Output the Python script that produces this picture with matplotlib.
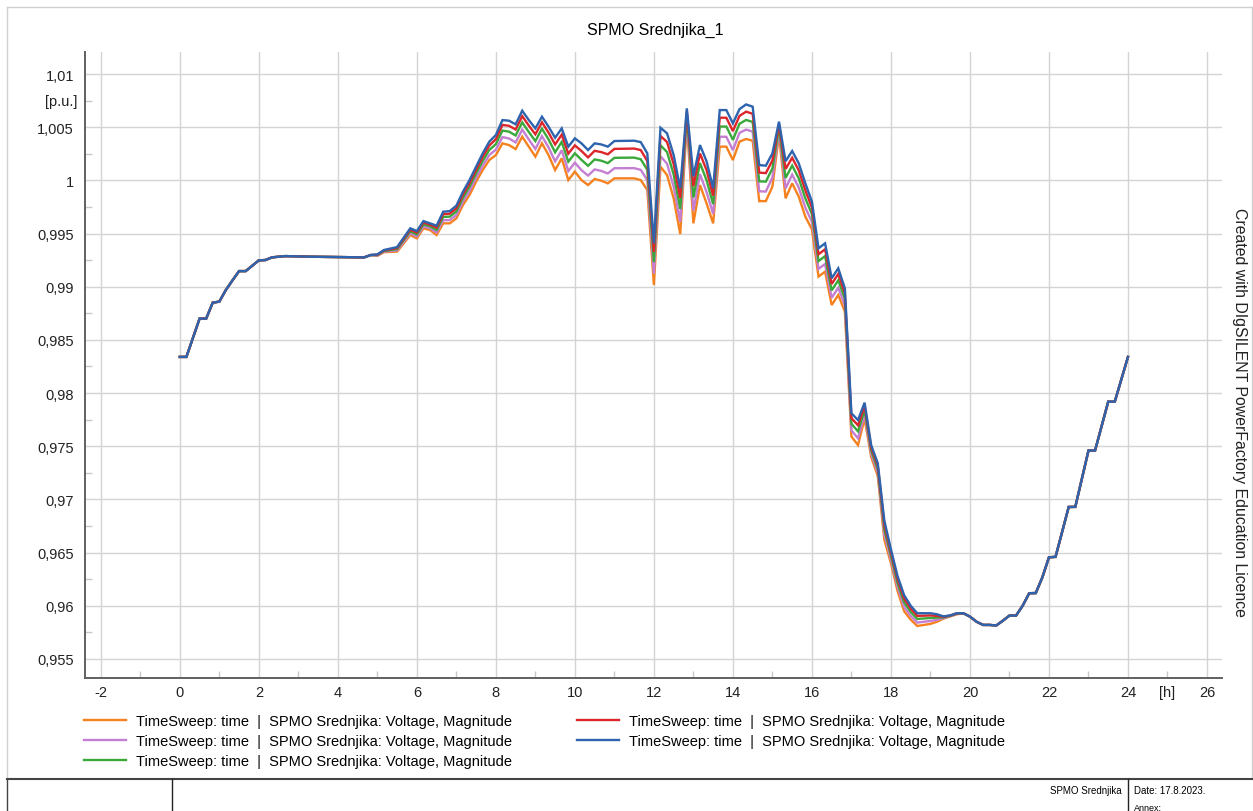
import numpy as np
import matplotlib.pyplot as plt
from matplotlib.ticker import MultipleLocator, FuncFormatter
from matplotlib.lines import Line2D

plt.rcParams['font.family'] = ['Liberation Sans', 'DejaVu Sans']
plt.rcParams['axes.unicode_minus'] = False

# time of each vertex, minutes after midnight
minutes_start = [0, 10, 30, 40, 50, 60, 70, 80, 90, 100, 120, 130, 140, 160, 200, 240, 280, 290]
minutes_mid = [300, 310, 330] + list(range(350, 670, 10)) + list(range(690, 1190, 10))
minutes_end = [1190, 1200, 1210, 1220, 1230, 1240, 1250, 1260, 1270, 1280, 1290, 1300,
               1310, 1320, 1330, 1350, 1360, 1380, 1390, 1410, 1420, 1440]

# voltage [p.u.] where all five cases coincide
shared_start = [0.9834, 0.9834, 0.9870, 0.9870, 0.9885, 0.9886, 0.9897, 0.9906, 0.99147, 0.99147,
                0.99248, 0.99251, 0.99276, 0.99288, 0.99282, 0.99279, 0.99276, 0.99298]
shared_end = [0.95930, 0.95898, 0.95850, 0.95820, 0.95820, 0.95815, 0.95860, 0.95908, 0.95908,
              0.96000, 0.96118, 0.96120, 0.96268, 0.96456, 0.96460, 0.96929, 0.96930, 0.97459,
              0.97460, 0.97919, 0.97920, 0.98340]

blue_mid = [
    0.99304, 0.99345, 0.99373, 0.99549, 0.99523, 0.99617, 0.99596, 0.99574, 0.99705, 0.99711,
    0.99762, 0.99893, 1.00003, 1.00129, 1.00254, 1.00364, 1.00426, 1.00567, 1.00561, 1.00527,
    1.00655, 1.00567, 1.00489, 1.00599, 1.00505, 1.00401, 1.00489, 1.00317, 1.00395, 1.00348,
    1.00285, 1.00348, 1.00338, 1.00317, 1.00370, 1.00373, 1.00360, 1.00254, 0.99408, 1.00495,
    1.00442, 1.00238, 0.99925, 1.00677, 1.00038, 1.00332, 1.00179, 0.99925, 1.00661, 1.00661,
    1.00536, 1.00670, 1.00714, 1.00693, 1.00144, 1.00138, 1.00254, 1.00552, 1.00180, 1.00276,
    1.00160, 0.99972, 0.99800, 0.99361, 0.99408, 0.99079, 0.99173, 0.98985, 0.97810, 0.97746,
    0.97910, 0.97510, 0.97340, 0.96800, 0.96530, 0.96280, 0.96100, 0.96000, 0.95930, 0.95930,
    0.95930, 0.95920, 0.95900, 0.95910, 0.95930]
red_mid = [
    0.99301, 0.99341, 0.99364, 0.99536, 0.99509, 0.99603, 0.99583, 0.99556, 0.99682, 0.99687,
    0.99737, 0.99867, 0.99973, 1.00099, 1.00221, 1.00328, 1.00387, 1.00521, 1.00513, 1.00478,
    1.00604, 1.00515, 1.00433, 1.00546, 1.00449, 1.00337, 1.00430, 1.00251, 1.00329, 1.00276,
    1.00216, 1.00278, 1.00266, 1.00245, 1.00296, 1.00299, 1.00285, 1.00182, 0.99326, 1.00418,
    1.00360, 1.00153, 0.99835, 1.00648, 0.99945, 1.00253, 1.00096, 0.99856, 1.00589, 1.00589,
    1.00464, 1.00606, 1.00646, 1.00626, 1.00073, 1.00068, 1.00188, 1.00526, 1.00107, 1.00212,
    1.00094, 0.99906, 0.99745, 0.99305, 0.99352, 0.99026, 0.99120, 0.98939, 0.97764, 0.97697,
    0.97879, 0.97487, 0.97315, 0.96762, 0.96503, 0.96251, 0.96069, 0.95973, 0.95905, 0.95907,
    0.95909, 0.95905, 0.95896, 0.95908, 0.95928]
green_mid = [
    0.99298, 0.99336, 0.99354, 0.99521, 0.99492, 0.99586, 0.99568, 0.99534, 0.99656, 0.99659,
    0.99708, 0.99837, 0.99940, 1.00066, 1.00183, 1.00286, 1.00341, 1.00468, 1.00458, 1.00422,
    1.00545, 1.00455, 1.00369, 1.00486, 1.00385, 1.00264, 1.00362, 1.00176, 1.00254, 1.00193,
    1.00137, 1.00197, 1.00185, 1.00162, 1.00212, 1.00214, 1.00199, 1.00099, 0.99232, 1.00330,
    1.00266, 1.00055, 0.99732, 1.00615, 0.99839, 1.00163, 1.00001, 0.99777, 1.00506, 1.00506,
    1.00381, 1.00532, 1.00568, 1.00549, 0.99991, 0.99988, 1.00113, 1.00497, 1.00023, 1.00139,
    1.00019, 0.99831, 0.99683, 0.99241, 0.99288, 0.98966, 0.99060, 0.98887, 0.97711, 0.97640,
    0.97843, 0.97461, 0.97286, 0.96719, 0.96472, 0.96217, 0.96033, 0.95942, 0.95876, 0.95881,
    0.95885, 0.95889, 0.95891, 0.95906, 0.95926]
purple_mid = [
    0.99294, 0.99330, 0.99342, 0.99503, 0.99473, 0.99567, 0.99550, 0.99510, 0.99625, 0.99627,
    0.99675, 0.99802, 0.99900, 1.00026, 1.00139, 1.00238, 1.00289, 1.00407, 1.00394, 1.00357,
    1.00477, 1.00385, 1.00295, 1.00416, 1.00310, 1.00179, 1.00283, 1.00088, 1.00166, 1.00096,
    1.00045, 1.00103, 1.00089, 1.00065, 1.00114, 1.00115, 1.00099, 1.00002, 0.99122, 1.00228,
    1.00156, 0.99941, 0.99611, 1.00577, 0.99715, 1.00058, 0.99891, 0.99685, 1.00410, 1.00410,
    1.00284, 1.00447, 1.00477, 1.00459, 0.99897, 0.99895, 1.00026, 1.00463, 0.99925, 1.00054,
    0.99932, 0.99744, 0.99610, 0.99167, 0.99214, 0.98896, 0.98990, 0.98827, 0.97650, 0.97574,
    0.97801, 0.97430, 0.97252, 0.96669, 0.96435, 0.96178, 0.95991, 0.95905, 0.95842, 0.95850,
    0.95857, 0.95869, 0.95885, 0.95903, 0.95923]
orange_mid = [
    0.99290, 0.99325, 0.99330, 0.99486, 0.99455, 0.99549, 0.99533, 0.99486, 0.99596, 0.99596,
    0.99643, 0.99768, 0.99862, 0.99988, 1.00097, 1.00191, 1.00238, 1.00348, 1.00332, 1.00294,
    1.00411, 1.00317, 1.00223, 1.00348, 1.00238, 1.00097, 1.00207, 1.00003, 1.00082, 1.00003,
    0.99956, 1.00013, 0.99997, 0.99972, 1.00019, 1.00019, 1.00003, 0.99909, 0.99016, 1.00129,
    1.00050, 0.99831, 0.99495, 1.00540, 0.99596, 0.99956, 0.99784, 0.99596, 1.00317, 1.00317,
    1.00191, 1.00364, 1.00389, 1.00373, 0.99805, 0.99805, 0.99941, 1.00430, 0.99831, 0.99972,
    0.99847, 0.99659, 0.99540, 0.99095, 0.99142, 0.98828, 0.98922, 0.98768, 0.97591, 0.97511,
    0.97760, 0.97400, 0.97220, 0.96620, 0.96400, 0.96140, 0.95950, 0.95870, 0.95810, 0.95820,
    0.95830, 0.95850, 0.95880, 0.95900, 0.95920]

label = 'TimeSweep: time  |  SPMO Srednjika: Voltage, Magnitude'
# drawing / legend order (legend fills column by column)
series = [
    ('#f5821f', orange_mid),
    ('#c47ed2', purple_mid),
    ('#3aa83a', green_mid),
    ('#dc262b', red_mid),
    ('#2e64ae', blue_mid),
]

hours = np.array(minutes_start + minutes_mid + minutes_end) / 60.0

fig = plt.figure(figsize=(12.53, 8.12), dpi=100)
W, H = 1253, 812
ax = fig.add_axes([85 / W, 1 - 679 / H, (1222 - 85) / W, (679 - 53) / H])

handles = []
for color, mid in series:
    v = np.array(shared_start + mid + shared_end)
    ln, = ax.plot(hours, v, color=color, lw=1.7, solid_joinstyle='miter')
    handles.append(ln)

ax.set_xlim(-2.4, 26.38)
ax.set_ylim(0.95321, 1.01207)
ax.xaxis.set_major_locator(MultipleLocator(2))
ax.xaxis.set_minor_locator(MultipleLocator(1))
ax.yaxis.set_major_locator(MultipleLocator(0.005))
ax.yaxis.set_minor_locator(MultipleLocator(0.0025))


def comma_fmt(v, pos):
    s = f'{v:.3f}'.rstrip('0').rstrip('.')
    return s.replace('.', ',')


ax.yaxis.set_major_formatter(FuncFormatter(comma_fmt))
ax.grid(True, which='major', color='#d4d4d4', lw=1.0)
ax.set_axisbelow(True)
for s in ['top', 'right']:
    ax.spines[s].set_visible(False)
for s in ['left', 'bottom']:
    ax.spines[s].set_color('#606060')
    ax.spines[s].set_linewidth(1.4)
ax.tick_params(which='major', length=0, labelsize=10.5, colors='#222222')
ax.tick_params(axis='y', which='major', pad=8)
ax.tick_params(axis='x', which='major', pad=5)
ax.tick_params(which='minor', length=5, direction='in', color='#c8c8c8', width=1)

# unit labels in the tick rows
ax.annotate('[p.u.]', xy=(0, 1.0075), xycoords=('axes fraction', 'data'),
            xytext=(-8, 0), textcoords='offset pixels', ha='right', va='center',
            fontsize=10.5, color='#222222')
ax.annotate('[h]', xy=(25, 0), xycoords=('data', 'axes fraction'),
            xytext=(0, -7), textcoords='offset pixels', ha='center', va='top',
            fontsize=10.5, color='#222222')

fig.text(655 / W, 1 - 30 / H, 'SPMO Srednjika_1', ha='center', va='center', fontsize=11.5)
fig.text(1240 / W, 1 - 412 / H, 'Created with DIgSILENT PowerFactory Education Licence',
         rotation=270, ha='center', va='center', fontsize=11.4, color='#222222')

fig.legend(handles, [label] * len(handles), ncol=2, loc='upper left',
           bbox_to_anchor=(84 / W, 1 - 715 / H), frameon=False, fontsize=10.5,
           handlelength=2.9, handletextpad=0.7, columnspacing=4.4,
           labelspacing=0.42, borderpad=0, borderaxespad=0)

# page frame and title block
def fig_line(x0, y0, x1, y1, **kw):
    fig.add_artist(Line2D([x0 / W, x1 / W], [1 - y0 / H, 1 - y1 / H],
                          transform=fig.transFigure, **kw))


fig_line(7, 8, 1252, 8, color='#d0d0d0', lw=1)
fig_line(7, 8, 7, 780, color='#d0d0d0', lw=1)
fig_line(1252, 8, 1252, 780, color='#d0d0d0', lw=1)
fig_line(7, 780, 1253, 780, color='#444444', lw=1.5)
fig_line(7, 780, 7, 812, color='#444444', lw=1)
fig_line(172, 780, 172, 812, color='#222222', lw=1)
fig_line(1128, 780, 1128, 812, color='#222222', lw=1)
fig.text(1122 / W, 1 - 791 / H, 'SPMO Srednjika', ha='right', va='center', fontsize=7)
fig.text(1134 / W, 1 - 791 / H, 'Date: 17.8.2023.', ha='left', va='center', fontsize=7)
fig.text(1134 / W, 1 - 809 / H, 'Annex:', ha='left', va='center', fontsize=6.5)

fig.savefig('out.png', dpi=100)
